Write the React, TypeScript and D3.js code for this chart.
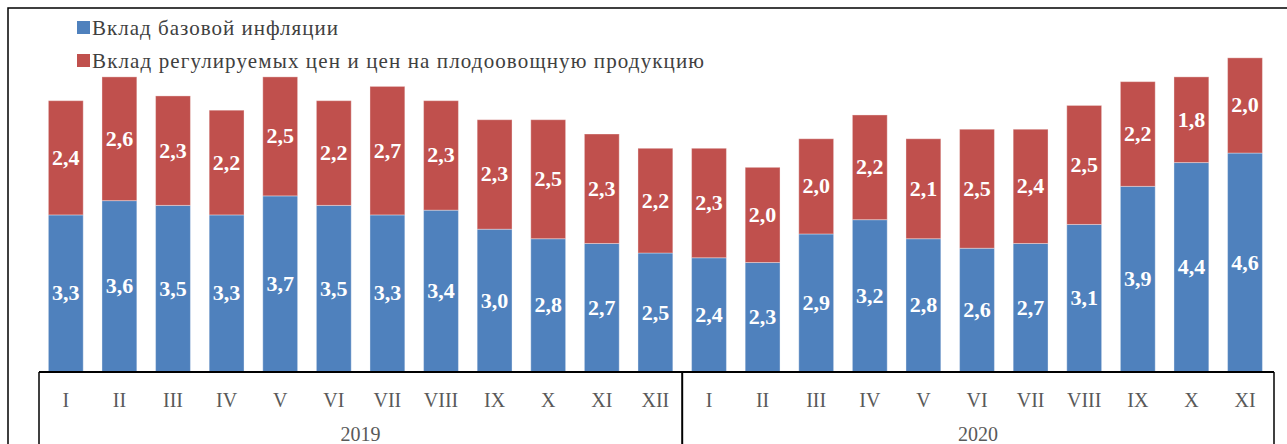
import { useMemo } from 'react';
import * as d3 from 'd3';

const months = ['I', 'II', 'III', 'IV', 'V', 'VI', 'VII', 'VIII', 'IX', 'X', 'XI', 'XII'];
const years = [
  { year: '2019', count: 12 },
  { year: '2020', count: 11 },
];

// вклад базовой инфляции, п.п.
const coreValues = [3.3, 3.6, 3.5, 3.3, 3.7, 3.5, 3.3, 3.4, 3.0, 2.8, 2.7, 2.5,
  2.4, 2.3, 2.9, 3.2, 2.8, 2.6, 2.7, 3.1, 3.9, 4.4, 4.6];
// вклад регулируемых цен и плодоовощной продукции, п.п.
const regValues = [2.4, 2.6, 2.3, 2.2, 2.5, 2.2, 2.7, 2.3, 2.3, 2.5, 2.3, 2.2,
  2.3, 2.0, 2.0, 2.2, 2.1, 2.5, 2.4, 2.5, 2.2, 1.8, 2.0];

const seriesNames = ['Вклад базовой инфляции', 'Вклад регулируемых цен и цен на плодоовощную продукцию'];
const legendWidths = [246, 612];
const colors = ['#4F81BD', '#C0504D'];

const W = 1287;
const H = 444;
const FONT = 'Liberation Serif';

export default function App() {
  const rows = useMemo(() => {
    const out: { key: string; month: string; year: string; core: number; reg: number }[] = [];
    let i = 0;
    years.forEach(y => {
      for (let m = 0; m < y.count; m++) {
        out.push({ key: `${y.year}-${m}`, month: months[m], year: y.year, core: coreValues[i], reg: regValues[i] });
        i++;
      }
    });
    return out;
  }, []);

  const axisLeft = 39;
  const axisRight = 1274;
  const baseline = 372;

  const x = d3.scaleBand<string>()
    .domain(rows.map(r => r.key))
    .range([axisLeft, axisLeft + 53.6 * rows.length])
    .paddingInner(0.35)
    .paddingOuter(0.175);
  const step = x.step();
  const y = d3.scaleLinear().domain([0, 7]).range([baseline, baseline - 7 * 47.6]);

  const fmt = (v: number) => v.toFixed(1).replace('.', ',');

  const stack = d3.stack<any>().keys(['core', 'reg'])(rows as any);

  // границы годов на оси
  let acc = 0;
  const groups = years.map(g => {
    const start = axisLeft + acc * step;
    acc += g.count;
    const end = g === years[years.length - 1] ? axisRight : axisLeft + acc * step;
    return { ...g, start, end };
  });

  return (
    <svg width={W} height={H} style={{ position: 'absolute', left: 0, top: 0 }}>
      <rect x={8} y={8} width={W} height={H} fill="#fff" stroke="#000" strokeWidth={1.5} />

      {/* legend */}
      {seriesNames.map((name, i) => (
        <g key={name} transform={`translate(77, ${21 + i * 33})`}>
          <rect width={13} height={13} fill={colors[i]} />
          <text x={15} y={14} fontFamily={FONT} fontSize={21} fill="#404040"
            textLength={legendWidths[i]} lengthAdjust="spacing">{name}</text>
        </g>
      ))}

      {/* bars */}
      {stack.map((layer, li) => (
        <g key={layer.key}>
          {layer.map((d, i) => {
            const r = rows[i];
            const y0 = y(d[0]);
            const y1 = y(d[1]);
            const v = li === 0 ? r.core : r.reg;
            return (
              <g key={r.key}>
                <rect x={x(r.key)} y={y1} width={x.bandwidth()} height={y0 - y1}
                  fill={colors[li]} stroke="#ffffff" strokeOpacity={0.35} strokeWidth={1} />
                <text x={(x(r.key) as number) + x.bandwidth() / 2} y={(y0 + y1) / 2 + 7}
                  textAnchor="middle" fontFamily={FONT} fontWeight="bold" fontSize={22} fill="#fff">
                  {fmt(v)}
                </text>
              </g>
            );
          })}
        </g>
      ))}

      {/* category axis */}
      <g fill="#595959">
        <line x1={axisLeft} x2={axisRight} y1={baseline} y2={baseline} stroke="#000" strokeWidth={2} />
        {[axisLeft, ...groups.map(g => g.end)].map((gx, i) => (
          <line key={i} x1={gx} x2={gx} y1={baseline} y2={H} stroke="#000" strokeWidth={i === 1 ? 2 : 1.5} />
        ))}
        {rows.map(r => (
          <text key={r.key} x={(x(r.key) as number) + x.bandwidth() / 2} y={407} textAnchor="middle" fontFamily={FONT} fontSize={20}>
            {r.month}
          </text>
        ))}
        {groups.map(g => (
          <text key={g.year} x={(g.start + g.end) / 2} y={441} textAnchor="middle" fontFamily={FONT} fontSize={20}>{g.year}</text>
        ))}
      </g>
    </svg>
  );
}
